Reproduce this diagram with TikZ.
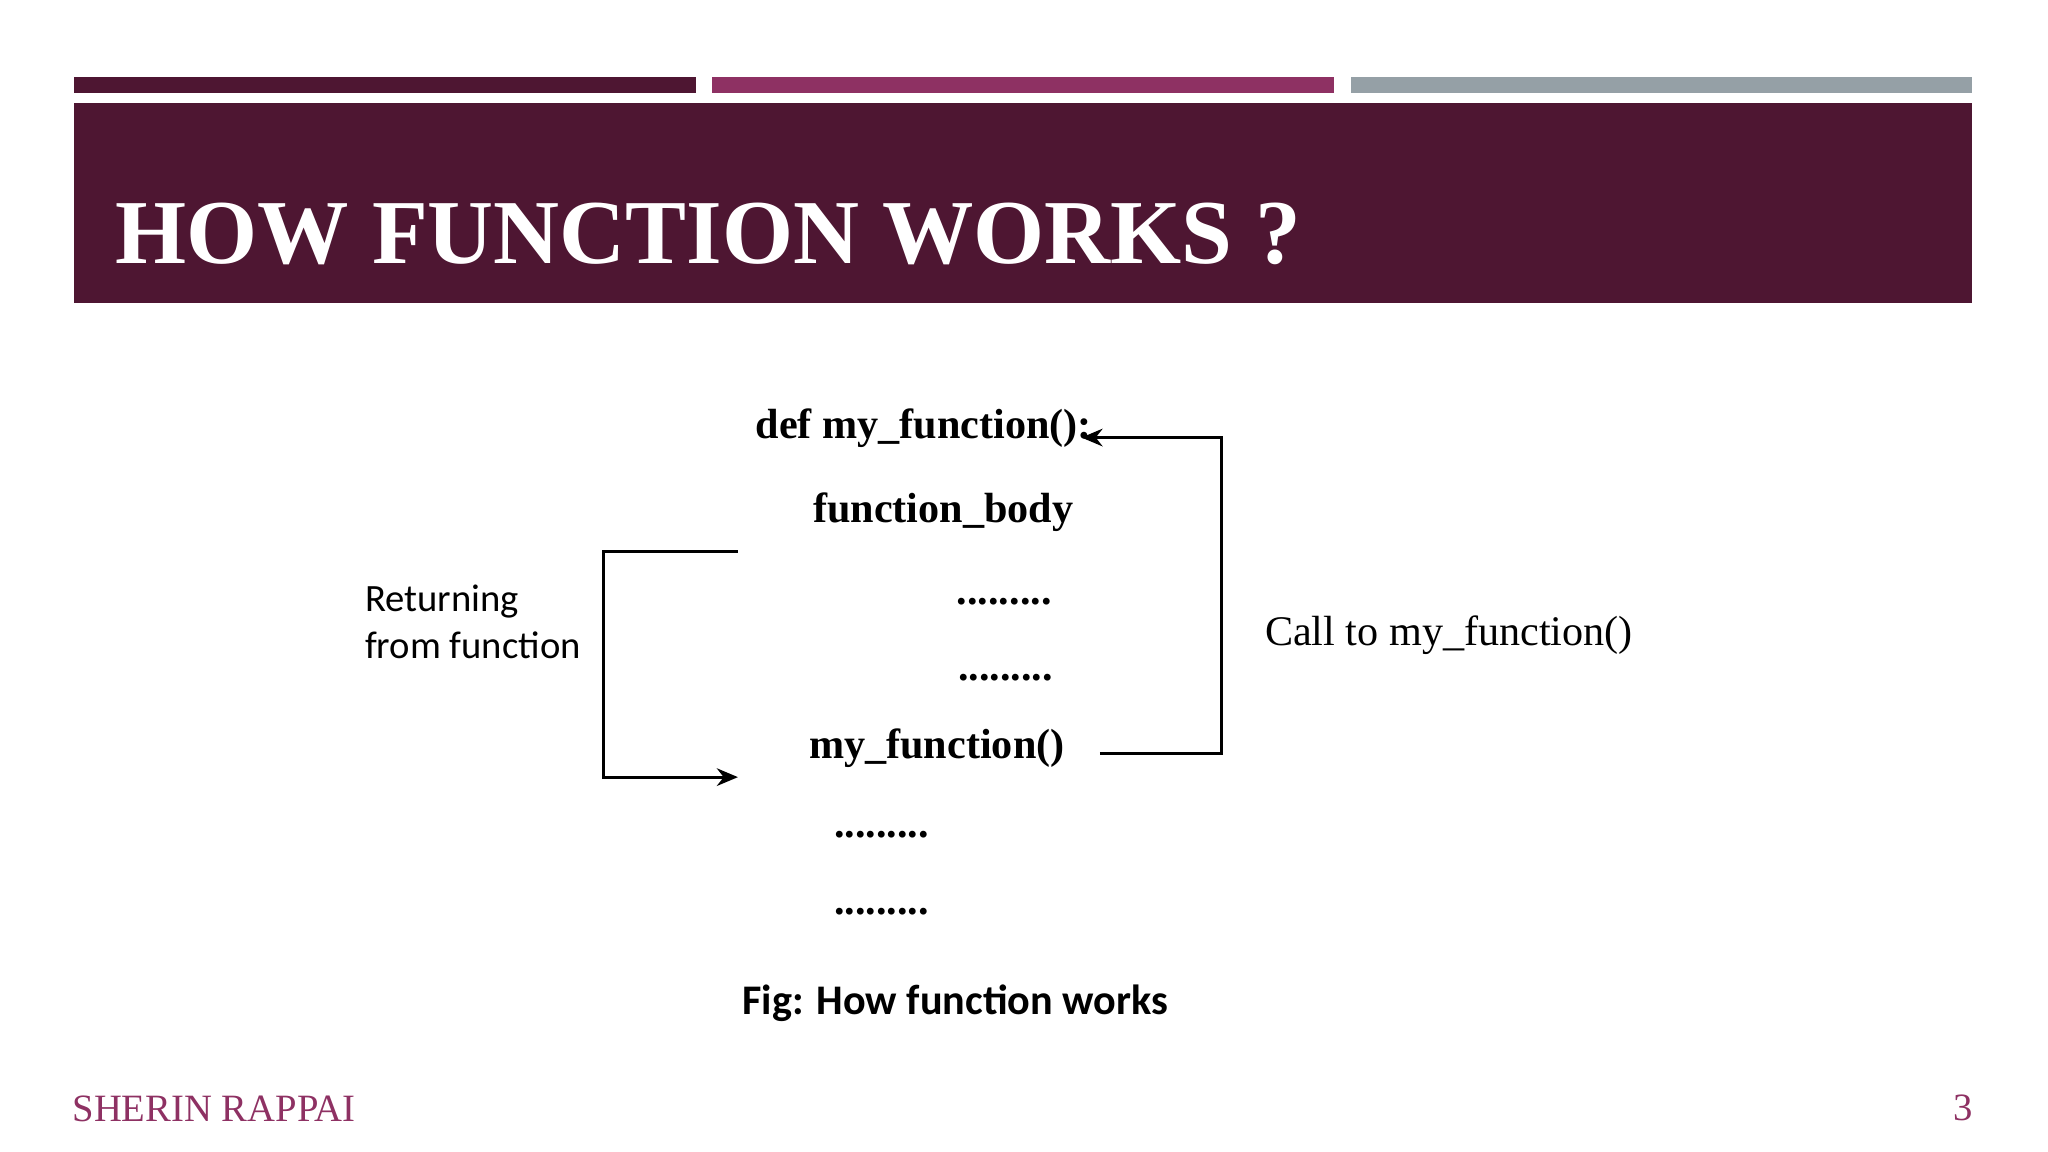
\documentclass[tikz,border=0pt]{standalone}
\usepackage{fontspec}
\setmainfont{Liberation Serif}
\newfontfamily\carlito{Carlito}
\usepackage{xcolor}
\usetikzlibrary{arrows.meta,positioning}
\definecolor{wine}{HTML}{4E1632}
\definecolor{berry}{HTML}{8E3163}
\definecolor{slate}{HTML}{95A0A6}

\begin{document}
\begin{tikzpicture}[x=0.013061cm,y=-0.013061cm,
    code/.style={font=\bfseries\fontsize{12}{14}\selectfont,inner sep=0pt},
    dots/.style={font=\bfseries\fontsize{12}{14}\selectfont,inner sep=0pt},
    note/.style={font=\carlito\fontsize{11}{14}\selectfont,inner sep=0pt,align=left},
    flow/.style={line width=0.9pt,-{Stealth[length=6pt,width=5pt]}}]
    \useasboundingbox (0,0) rectangle (1568,882);
    % Header bars
    \fill[wine] (57,59) rectangle (533,71);
    \fill[berry] (545,59) rectangle (1021,71);
    \fill[slate] (1034,59) rectangle (1510,71);
    \fill[wine] (57,79) rectangle (1510,232);
    \node[anchor=base west,text=white,inner sep=0pt,font=\bfseries\fontsize{26}{30}\selectfont] (title) at (88,202) {HOW FUNCTION WORKS ?};

    % Code lines
    \node[code,anchor=base west] (def) at (578,336) {def my\_function():};
    \node[code,anchor=base west] (body) at (622,400) {function\_body};
    \node[dots,anchor=base west] (d1) at (732,463) {.........};
    \node[dots,anchor=base west] (d2) at (733,521) {.........};
    \node[code,anchor=base west] (call) at (619,581) {my\_function()};
    \node[dots,anchor=base west] (d3) at (638,641) {.........};
    \node[dots,anchor=base west] (d4) at (638,700) {.........};
    \node[font=\carlito\bfseries\fontsize{12}{14}\selectfont,anchor=base west,inner sep=0pt] (fig) at (568,777) {Fig: How function works};

    % Labels
    \node[note,anchor=base west] (ret1) at (279,468) {Returning};
    \node[note,anchor=base west] (ret2) at (279,504) {from function};
    \node[anchor=base west,inner sep=0pt,font=\fontsize{12}{14}\selectfont] (calllbl) at (968,494) {Call to my\_function()};

    % Connectors
    \coordinate (rtop) at (565,422);
    \coordinate (rbot) at (565,595);
    \draw[flow] (rtop) -- (462,422) -- (462,595) -- (rbot);
    \coordinate (cfrom) at (842,577);
    \coordinate (cto) at (828,335);
    \draw[flow] (cfrom) -- (935,577) -- (935,335) -- (cto);

    % Footer
    \node[anchor=base west,text=berry,inner sep=0pt,font=\fontsize{11}{13}\selectfont] (author) at (55,859) {SHERIN RAPPAI};
    \node[anchor=base east,text=berry,inner sep=0pt,font=\fontsize{11}{13}\selectfont] (page) at (1511,858) {3};
\end{tikzpicture}
\end{document}
